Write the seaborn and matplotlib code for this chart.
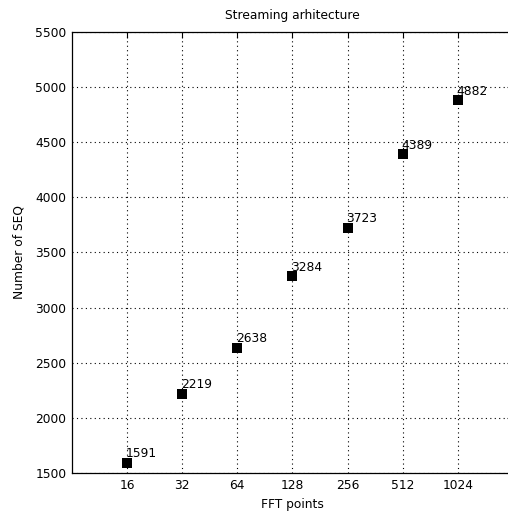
import numpy as np
import matplotlib
matplotlib.use('Agg')
import matplotlib.pyplot as plt
import seaborn as sns

# data
fft_points = ['16', '32', '64', '128', '256', '512', '1024']
num_seq = [1591, 2219, 2638, 3284, 3723, 4389, 4882]
positions = np.arange(1, len(fft_points) + 1)

sns.set_style('white')
plt.rcParams['font.family'] = ['DejaVu Sans']
plt.rcParams['text.color'] = 'black'
plt.rcParams['axes.labelcolor'] = 'black'

fig = plt.figure(figsize=(5.08, 5.15), dpi=100)
# right edge of the axes runs past the figure, as in the cropped original
ax = fig.add_axes([0.1417, 0.0816, 0.868, 0.8563])

sns.scatterplot(x=positions, y=num_seq, marker='s', s=46, color='black',
                edgecolor='black', linewidth=0, ax=ax, zorder=3)

for xp, yv in zip(positions, num_seq):
    ax.annotate(str(yv), (xp, yv), xytext=(-1, 6.5), textcoords='offset points',
                ha='left', va='center', fontsize=8.8, color='black')

ax.set_xlim(0, 8)
ax.set_ylim(1500, 5500)
ax.set_xticks(positions)
ax.set_xticklabels(fft_points)
ax.set_yticks(np.arange(1500, 5501, 500))

ax.grid(True, linestyle=(0, (1, 3)), color='black', linewidth=0.8)
ax.set_axisbelow(True)
for sp in ax.spines.values():
    sp.set_color('black')
    sp.set_linewidth(0.9)
ax.tick_params(direction='in', length=4, width=0.8, top=True, right=True,
               labelsize=8.8, colors='black', pad=4)

ax.set_title('Streaming arhitecture', fontsize=8.8, pad=9)
ax.set_xlabel('FFT points', fontsize=8.8, labelpad=5)
ax.set_ylabel('Number of SEQ', fontsize=8.8, labelpad=7)

fig.savefig('out.png', dpi=100)
